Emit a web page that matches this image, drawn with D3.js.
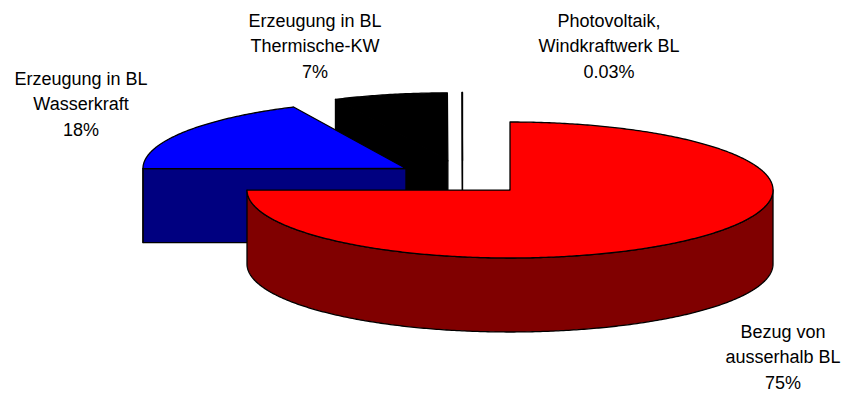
<!DOCTYPE html>
<html>
<head>
<meta charset="utf-8">
<script src="https://cdn.jsdelivr.net/npm/d3@7"></script>
<style>
  html, body { margin: 0; padding: 0; background: #fff; }
  svg { display: block; }
  text { font-family: "Liberation Sans", Arial, sans-serif; font-size: 18px; fill: #000; }
</style>
</head>
<body>
<svg id="chart" width="847" height="398"></svg>
<script>
// Electricity supply shares
const categories = [
  "Bezug von ausserhalb BL",
  "Erzeugung in BL Wasserkraft",
  "Erzeugung in BL Thermische-KW",
  "Photovoltaik, Windkraftwerk BL"
];
const labelLines = [
  ["Bezug von", "ausserhalb BL"],
  ["Erzeugung in BL", "Wasserkraft"],
  ["Erzeugung in BL", "Thermische-KW"],
  ["Photovoltaik,", "Windkraftwerk BL"]
];
const values = [75, 18, 7, 0.03];
const valueLabels = values.map(v => v + "%");

// Styling: top face colour and darker side colour per slice
const topColors  = ["#FF0000", "#0000FF", "#000000", "#FFFFFF"];
const sideColors = ["#800000", "#000080", "#000000", "#FFFFFF"];

// Label anchors (centre x, centre y of first line)
const labelAnchors = [[783, 331], [81, 78], [315, 20], [609, 20]];
const lineGap = 25.5;

// 3D pie geometry (oblique, flattened ellipse)
const geo = {
  cx: 462.6, cy: 177.75,   // pie centre before explosion
  rx: 263, ry: 68,         // top ellipse radii
  depth: 74,               // thickness of the pie
  explode: 67              // explosion distance along the slice bisector (x units)
};
const K = geo.ry / geo.rx;

const svg = d3.select("#chart");

const pie = d3.pie().sort(null).value(d => d).startAngle(0).endAngle(2 * Math.PI);
const arcs = pie(values);

// Screen position of a point on a slice: angle measured clockwise from 12 o'clock
function apexOf(a) {
  const mid = (a.startAngle + a.endAngle) / 2;
  return [geo.cx + geo.explode * Math.sin(mid), geo.cy - geo.explode * K * Math.cos(mid)];
}
function rimPoint(apex, theta, h) {
  return [apex[0] + geo.rx * Math.sin(theta), apex[1] - geo.ry * Math.cos(theta) + h];
}
function rimSamples(apex, t0, t1, h) {
  const n = Math.max(2, Math.ceil(Math.abs(t1 - t0) / 0.01));
  const pts = [];
  for (let i = 0; i <= n; i++) pts.push(rimPoint(apex, t0 + (t1 - t0) * i / n, h));
  return pts;
}
const line = d3.line();

function facesFor(a, i) {
  const apex = apexOf(a);
  const faces = [];
  const s = a.startAngle, e = a.endAngle;
  const apexBottom = [apex[0], apex[1] + geo.depth];

  // Radial face at the start angle (visible when it faces the viewer)
  if (Math.sin(s) < -1e-9) {
    const p = rimPoint(apex, s, 0), q = rimPoint(apex, s, geo.depth);
    faces.push({ d: line([apex, p, q, apexBottom]) + "Z", fill: sideColors[i] });
  }
  // Radial face at the end angle
  if (Math.sin(e) > 1e-9) {
    const p = rimPoint(apex, e, 0), q = rimPoint(apex, e, geo.depth);
    faces.push({ d: line([apex, p, q, apexBottom]) + "Z", fill: sideColors[i] });
  }
  // Outer curved wall: front half of the rim only
  const lo = Math.max(s, Math.PI / 2), hi = Math.min(e, 3 * Math.PI / 2);
  if (hi > lo) {
    const top = rimSamples(apex, lo, hi, 0);
    const bot = rimSamples(apex, hi, lo, geo.depth);
    faces.push({ d: line(top.concat(bot)) + "Z", fill: sideColors[i] });
  }
  // Top face
  const rim = rimSamples(apex, s, e, 0);
  faces.push({ d: line([apex].concat(rim)) + "Z", fill: topColors[i] });
  return { apex, faces };
}

const slices = arcs.map((a, i) => Object.assign({ i }, facesFor(a, i)));
// Paint from the back of the scene to the front
slices.sort((p, q) => p.apex[1] - q.apex[1]);

const gSlices = svg.append("g").attr("class", "slices");
slices.forEach(sl => {
  const g = gSlices.append("g");
  g.selectAll("path").data(sl.faces).join("path")
    .attr("d", d => d.d)
    .attr("fill", d => d.fill)
    .attr("stroke", "#000")
    .attr("stroke-width", 1.3)
    .attr("stroke-linejoin", "round");
});

// Data labels
const gLabels = svg.append("g").attr("class", "labels");
arcs.forEach((a, i) => {
  const [x, y] = labelAnchors[i];
  const lines = labelLines[i].concat([valueLabels[i]]);
  const t = gLabels.append("text").attr("text-anchor", "middle");
  lines.forEach((ln, j) => {
    t.append("tspan").attr("x", x).attr("y", y + 6.5 + j * lineGap).text(ln);
  });
});
</script>
</body>
</html>
